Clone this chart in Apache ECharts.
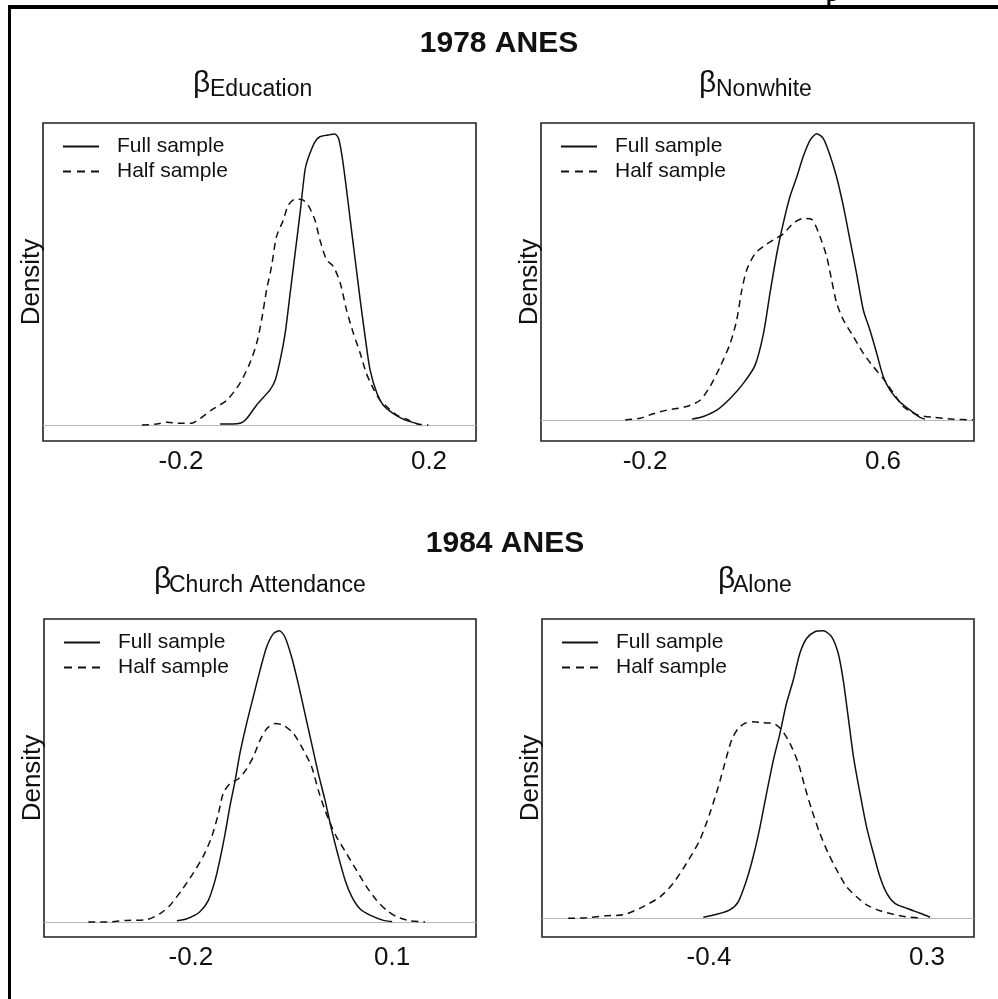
<!DOCTYPE html>
<html>
<head>
<meta charset="utf-8">
<script src="https://cdn.jsdelivr.net/npm/echarts@6/dist/echarts.min.js"></script>
<style>
html,body{margin:0;padding:0;background:#fff;}
#chart{width:998px;height:999px;}
</style>
</head>
<body>
<div id="chart"></div>
<script>
// ---------- data (x = coefficient value, y = density) ----------
const seriesNames = ['Full sample', 'Half sample'];
const rowTitles = ['1978 ANES', '1984 ANES'];
const panelSubscripts = ['Education', 'Nonwhite', 'Church Attendance', 'Alone'];

const educationTicks = [-0.2, 0.2];
const nonwhiteTicks = [-0.2, 0.6];
const churchTicks = [-0.2, 0.1];
const aloneTicks = [-0.4, 0.3];

const educationFull = [[-0.137,0.03],[-0.105,0.06],[-0.094,0.22],[-0.078,0.67],[-0.0565,1.17],[-0.048,1.5],[-0.040,2.17],[-0.032,3.06],[-0.024,4.39],[-0.016,5.72],[-0.008,7.06],[0.000,8.5],[0.005,8.89],[0.016,9.44],[0.024,9.61],[0.038,9.67],[0.048,9.70],[0.054,9.56],[0.059,9.06],[0.065,8.17],[0.073,6.83],[0.081,5.5],[0.089,4.17],[0.097,2.94],[0.105,1.83],[0.116,1.06],[0.126,0.67],[0.142,0.39],[0.159,0.19],[0.175,0.08],[0.186,0.01]];
const educationHalf = [[-0.263,0.0],[-0.239,0.03],[-0.223,0.09],[-0.202,0.06],[-0.183,0.06],[-0.169,0.22],[-0.151,0.5],[-0.126,0.83],[-0.105,1.39],[-0.089,2.06],[-0.078,2.72],[-0.070,3.5],[-0.062,4.5],[-0.054,5.28],[-0.046,6.28],[-0.035,6.83],[-0.027,7.33],[-0.016,7.53],[-0.005,7.52],[0.005,7.33],[0.016,6.83],[0.024,6.17],[0.035,5.5],[0.046,5.28],[0.057,4.72],[0.067,3.83],[0.078,3.06],[0.089,2.39],[0.099,1.72],[0.110,1.22],[0.121,0.83],[0.132,0.61],[0.148,0.33],[0.164,0.19],[0.183,0.03],[0.199,0.0]];

const nonwhiteFull = [[-0.043,0.01],[-0.004,0.04],[0.041,0.11],[0.086,0.24],[0.131,0.41],[0.170,0.61],[0.198,0.96],[0.220,1.41],[0.243,1.85],[0.265,2.19],[0.287,2.48],[0.310,2.70],[0.332,2.93],[0.355,3.11],[0.377,3.18],[0.399,3.13],[0.422,2.94],[0.444,2.70],[0.467,2.37],[0.489,2.0],[0.511,1.63],[0.534,1.22],[0.556,1.0],[0.579,0.74],[0.601,0.48],[0.624,0.33],[0.657,0.2],[0.691,0.11],[0.724,0.03],[0.741,0.01]];
const nonwhiteHalf = [[-0.267,0.0],[-0.217,0.02],[-0.172,0.07],[-0.127,0.11],[-0.06,0.15],[-0.015,0.22],[0.018,0.37],[0.052,0.59],[0.086,0.85],[0.108,1.11],[0.125,1.44],[0.142,1.67],[0.170,1.85],[0.198,1.93],[0.231,2.0],[0.265,2.07],[0.299,2.19],[0.332,2.24],[0.360,2.23],[0.388,2.04],[0.411,1.81],[0.427,1.56],[0.444,1.30],[0.467,1.11],[0.500,0.93],[0.534,0.74],[0.568,0.59],[0.601,0.46],[0.635,0.30],[0.668,0.15],[0.713,0.06],[0.769,0.03],[0.836,0.01],[0.904,0.0]];

const churchFull = [[-0.221,0.03],[-0.206,0.08],[-0.187,0.25],[-0.174,0.54],[-0.164,1.04],[-0.157,1.54],[-0.149,2.21],[-0.142,2.88],[-0.134,3.54],[-0.127,4.21],[-0.117,4.96],[-0.107,5.63],[-0.097,6.29],[-0.087,6.88],[-0.077,7.21],[-0.068,7.28],[-0.060,7.13],[-0.050,6.63],[-0.040,5.96],[-0.030,5.21],[-0.020,4.46],[-0.010,3.71],[0.000,3.04],[0.010,2.29],[0.020,1.63],[0.030,1.04],[0.040,0.63],[0.052,0.33],[0.067,0.17],[0.087,0.04],[0.100,0.01]];
const churchHalf = [[-0.353,0.0],[-0.326,0.0],[-0.296,0.04],[-0.266,0.06],[-0.246,0.21],[-0.231,0.42],[-0.214,0.79],[-0.197,1.21],[-0.182,1.63],[-0.169,2.13],[-0.159,2.71],[-0.152,3.21],[-0.142,3.46],[-0.129,3.58],[-0.117,3.83],[-0.107,4.13],[-0.097,4.54],[-0.087,4.83],[-0.075,4.96],[-0.062,4.92],[-0.047,4.71],[-0.032,4.29],[-0.020,3.88],[-0.010,3.29],[0.000,2.79],[0.010,2.38],[0.017,2.13],[0.032,1.71],[0.047,1.29],[0.062,0.88],[0.077,0.54],[0.092,0.29],[0.107,0.13],[0.127,0.03],[0.149,0.0]];

const aloneFull = [[-0.418,0.02],[-0.375,0.08],[-0.333,0.17],[-0.306,0.33],[-0.279,0.77],[-0.258,1.23],[-0.236,1.83],[-0.215,2.5],[-0.193,3.17],[-0.172,3.7],[-0.151,4.3],[-0.129,4.77],[-0.108,5.3],[-0.086,5.6],[-0.060,5.73],[-0.033,5.75],[-0.006,5.63],[0.015,5.3],[0.031,4.77],[0.047,4.03],[0.064,3.23],[0.085,2.5],[0.106,1.83],[0.128,1.3],[0.149,0.83],[0.171,0.5],[0.197,0.3],[0.235,0.2],[0.278,0.1],[0.310,0.02]];
const aloneHalf = [[-0.852,0.0],[-0.793,0.01],[-0.729,0.05],[-0.675,0.07],[-0.622,0.2],[-0.557,0.43],[-0.515,0.7],[-0.472,1.1],[-0.429,1.57],[-0.397,2.1],[-0.370,2.63],[-0.349,3.1],[-0.327,3.57],[-0.306,3.8],[-0.284,3.9],[-0.258,3.93],[-0.225,3.91],[-0.193,3.9],[-0.167,3.77],[-0.140,3.5],[-0.113,3.1],[-0.092,2.63],[-0.070,2.17],[-0.044,1.7],[-0.017,1.3],[0.010,0.97],[0.042,0.63],[0.074,0.43],[0.106,0.27],[0.149,0.15],[0.192,0.08],[0.235,0.03],[0.278,0.01]];

// axis limits per panel
const xLimits = [[-0.4226, 0.2758], [-0.55, 0.906], [-0.419, 0.225], [-0.936, 0.451]];
const yLimits = [[-0.533, 10.067], [-0.233, 3.3], [-0.375, 7.575], [-0.374, 5.986]];

// ---------- build ----------
const FONT = "'Liberation Sans', Arial, Helvetica, sans-serif";
const panels = [
  {full: educationFull, half: educationHalf, ticks: educationTicks},
  {full: nonwhiteFull, half: nonwhiteHalf, ticks: nonwhiteTicks},
  {full: churchFull, half: churchHalf, ticks: churchTicks},
  {full: aloneFull, half: aloneHalf, ticks: aloneTicks}
];
const gridBoxes = [
  {left: 43, top: 123, width: 433, height: 318},
  {left: 541, top: 123, width: 433, height: 318},
  {left: 44, top: 619, width: 432, height: 318},
  {left: 542, top: 619, width: 432, height: 318}
];

const grid = [], xAxis = [], yAxis = [], series = [], legend = [];
panels.forEach((p, i) => {
  const g = gridBoxes[i];
  grid.push({left: g.left, top: g.top, width: g.width, height: g.height, show: true,
    borderColor: '#222', borderWidth: 1.6, backgroundColor: 'transparent'});
  xAxis.push({type: 'value', gridIndex: i, min: xLimits[i][0], max: xLimits[i][1],
    axisLine: {show: false}, axisTick: {show: false}, splitLine: {show: false},
    axisLabel: {customValues: p.ticks, fontSize: 26, color: '#111', fontFamily: FONT, margin: 8,
      formatter: v => String(v)}});
  yAxis.push({type: 'value', gridIndex: i, min: yLimits[i][0], max: yLimits[i][1],
    axisLine: {show: false}, axisTick: {show: false}, splitLine: {show: false},
    axisLabel: {show: false},
    name: 'Density', nameLocation: 'middle', nameRotate: 90, nameGap: -2,
    nameTextStyle: {fontSize: 26, color: '#111', fontFamily: FONT}});
  series.push({name: seriesNames[0], type: 'line', xAxisIndex: i, yAxisIndex: i, data: p.full,
    symbol: 'none', smooth: 0.25, z: 3,
    itemStyle: {color: '#111'},
    lineStyle: {color: '#111', width: 1.5, type: 'solid'},
    markLine: {silent: true, symbol: ['none', 'none'], label: {show: false}, z: 1,
      lineStyle: {color: '#b8b8b8', width: 1.2, type: 'solid'}, data: [{yAxis: 0}]}});
  series.push({name: seriesNames[1], type: 'line', xAxisIndex: i, yAxisIndex: i, data: p.half,
    symbol: 'none', smooth: 0.25, z: 3,
    itemStyle: {color: '#111'},
    lineStyle: {color: '#111', width: 1.5, type: [7, 5]}});
  legend.push({orient: 'vertical', left: g.left + 19, top: g.top + 13, padding: 0,
    itemWidth: 36, itemHeight: 2, itemGap: 4, selectedMode: false,
    itemStyle: {opacity: 0},
    data: [{name: seriesNames[0]}, {name: seriesNames[1], lineStyle: {type: [8, 6]}}],
    textStyle: {fontSize: 21, color: '#111', fontFamily: FONT, padding: [0, 0, 0, 13]}});
});

const graphic = [
  {type: 'rect', shape: {x: 8, y: 5, width: 990, height: 4}, style: {fill: '#000'}},
  {type: 'rect', shape: {x: 8, y: 5, width: 3, height: 994}, style: {fill: '#000'}},
  {type: 'text', x: 826, y: 6, style: {text: 'p', font: "bold 22px 'Liberation Serif', serif", fill: '#000', textVerticalAlign: 'bottom'}},
  {type: 'text', x: 499, y: 59, style: {text: rowTitles[0], font: 'bold 30px ' + FONT, fill: '#111', textAlign: 'center', textVerticalAlign: 'bottom'}},
  {type: 'text', x: 505, y: 559, style: {text: rowTitles[1], font: 'bold 30px ' + FONT, fill: '#111', textAlign: 'center', textVerticalAlign: 'bottom'}}
];
const betaX = [193, 699, 154, 718];
const subX = [210, 716, 169, 733];
const betaY = [99, 99, 595, 595];
panelSubscripts.forEach((s, i) => {
  graphic.push({type: 'text', x: betaX[i], y: betaY[i], style: {text: 'β', font: '30px ' + FONT, fill: '#111', textAlign: 'left', textVerticalAlign: 'bottom'}});
  graphic.push({type: 'text', x: subX[i], y: betaY[i] + 2, style: {text: s, font: '23px ' + FONT, fill: '#111', textAlign: 'left', textVerticalAlign: 'bottom'}});
});

const chart = echarts.init(document.getElementById('chart'), null, {renderer: 'canvas'});
chart.setOption({
  animation: false,
  backgroundColor: '#fff',
  grid, xAxis, yAxis, series, legend, graphic
});
</script>
</body>
</html>
